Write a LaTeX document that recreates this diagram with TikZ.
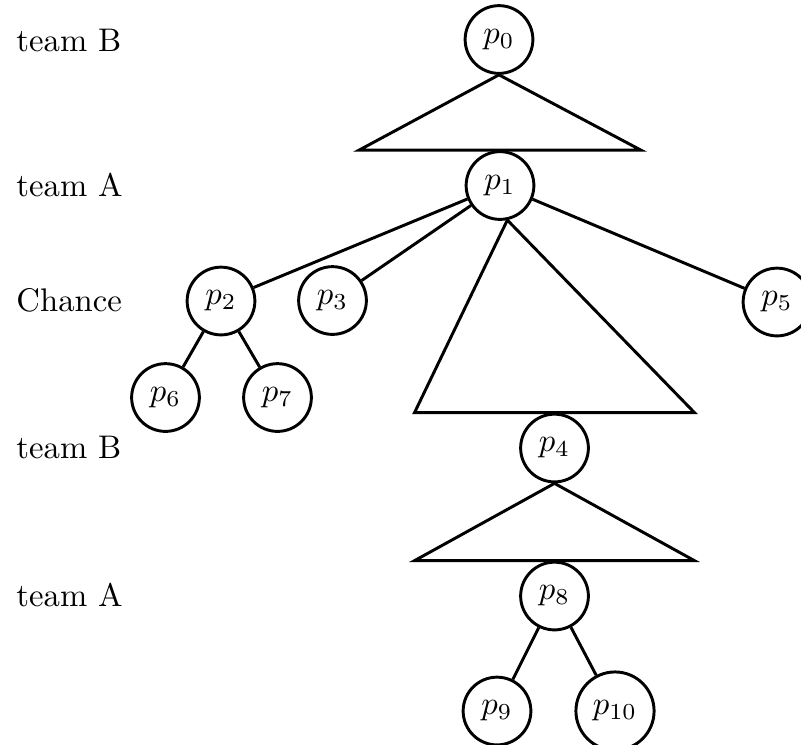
\documentclass[tikz,border=0pt]{standalone}
\usetikzlibrary{calc}
\begin{document}
\begin{tikzpicture}[x=0.3058pt,y=-0.3058pt,line width=0.9pt,
  player/.style={circle,draw,line width=0.9pt},
  levellabel/.style={anchor=west,inner sep=0pt},
  subtree/.style={line join=miter}]
\useasboundingbox (0,0) rectangle (801,744);

% who moves at each depth
\node[levellabel] (l0) at (15,40)  {team B};
\node[levellabel] (l1) at (15,185) {team A};
\node[levellabel] (l2) at (15,300) {Chance};
\node[levellabel] (l3) at (15,447) {team B};
\node[levellabel] (l4) at (15,595) {team A};

% positions
\node[player] (p0)  at (499,39.5) {$p_0$};
\node[player] (p1)  at (500,185.5) {$p_1$};
\node[player] (p2)  at (221,301) {$p_2$};
\node[player] (p3)  at (332.5,300.5) {$p_3$};
\node[player] (p5)  at (777,302) {$p_5$};
\node[player] (p6)  at (165.5,397.5) {$p_6$};
\node[player] (p7)  at (277.5,397.5) {$p_7$};
\node[player] (p4)  at (554.5,448) {$p_4$};
\node[player] (p8)  at (554.5,596) {$p_8$};
\node[player] (p9)  at (497,711) {$p_9$};
\node[player] (p10) at (615,711) {$p_{10}$};

% collapsed subtrees
\draw[subtree] (p0.south) -- ($(p1.north)+(-141,0)$) -- ($(p1.north)+(141,0)$) -- cycle;
\draw[subtree] (p1.-78) -- ($(p4.north)+(-140,0)$) -- ($(p4.north)+(140,0)$) -- cycle;
\draw[subtree] (p4.south) -- ($(p8.north)+(-140,0)$) -- ($(p8.north)+(140,0)$) -- cycle;

% single moves
\draw (p1) -- (p2);
\draw (p1) -- (p3);
\draw (p1) -- (p5);
\draw (p2) -- (p6);
\draw (p2) -- (p7);
\draw (p8) -- (p9);
\draw (p8) -- (p10);
\end{tikzpicture}
\end{document}
